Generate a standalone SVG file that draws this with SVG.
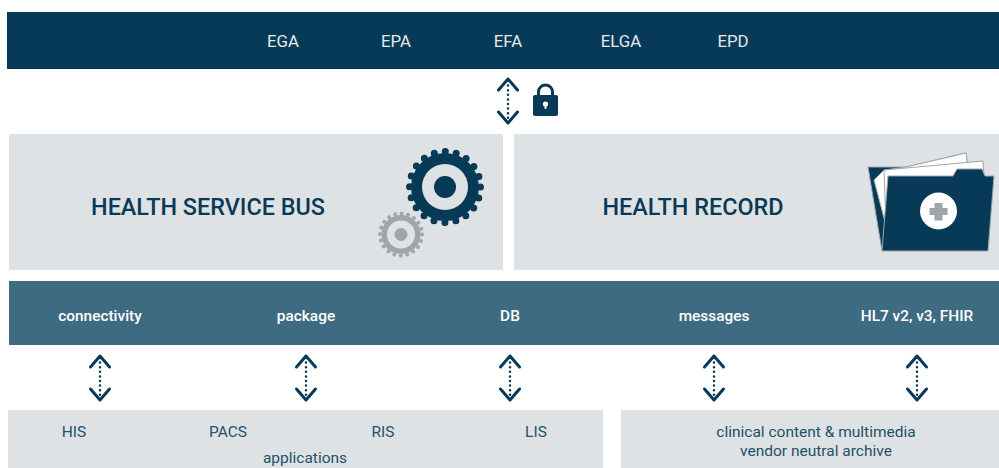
<svg xmlns="http://www.w3.org/2000/svg" width="999" height="468" viewBox="0 0 999 468">
<style>
text{font-family:Roboto,"Liberation Sans",sans-serif;text-anchor:middle}
.top{fill:#e4e9ec;font-size:16.8px}
.big{fill:#073a56;font-size:23.400px;font-weight:500}
.mid{fill:#fff;font-size:15.4px;font-weight:500}
.low{fill:#23506a;font-size:15.500px}
.panel{fill:#dfe2e5}
.chev{fill:none;stroke:#073a56;stroke-width:3;stroke-linecap:round;stroke-linejoin:round}
.dots{fill:none;stroke:#073a56;stroke-width:2.5;stroke-linecap:round;stroke-dasharray:0 4.6}
</style>
<defs>
<g id="arrow">
<path class="dots" d="M0 -20V20"/>
<path class="chev" d="M-9.500 -11 L0 -22 L9.500 -11"/>
<path class="chev" d="M-9.500 11 L0 22 L9.500 11"/>
</g>
</defs>
<rect width="999" height="468" fill="#fff"/>
<g id="top-bar">
<rect x="7" y="12" width="992" height="57" fill="#073a56"/>
<text class="top" x="283" y="46.500">EGA</text>
<text class="top" x="396" y="46.500">EPA</text>
<text class="top" x="508" y="46.500">EFA</text>
<text class="top" x="621" y="46.500">ELGA</text>
<text class="top" x="733" y="46.500">EPD</text>
</g>
<g id="lock">
<path d="M538.500 96V92a7 7 0 0 1 14 0V96" fill="none" stroke="#073a56" stroke-width="3"/>
<rect x="533" y="95" width="25" height="21" rx="2" fill="#073a56"/>
<circle cx="545.500" cy="104" r="2.600" fill="#fff"/>
<rect x="544.600" y="104" width="1.800" height="5" fill="#fff"/>
</g>
<g id="health-service-bus">
<rect class="panel" x="9" y="134" width="494" height="136"/>
<text class="big" x="208" y="214.500">HEALTH SERVICE BUS</text>
<g id="gear-small">
<circle cx="401" cy="234.500" r="21" fill="none" stroke="#a0a5aa" stroke-width="4" stroke-dasharray="0 6.597" stroke-linecap="round"/>
<circle cx="401" cy="234.500" r="19.500" fill="#a0a5aa"/>
<circle cx="401" cy="234.500" r="14" fill="#dfe2e5"/>
<circle cx="401" cy="234.500" r="6.500" fill="#a0a5aa"/>
</g>
<g id="gear-big">
<circle cx="445" cy="187" r="35.500" fill="none" stroke="#073a56" stroke-width="7" stroke-dasharray="0 11.152" stroke-linecap="round"/>
<circle cx="445" cy="187" r="34" fill="#073a56"/>
<circle cx="445" cy="187" r="23" fill="#dfe2e5"/>
<circle cx="445" cy="187" r="11" fill="#073a56"/>
</g>
</g>
<g id="health-record">
<rect class="panel" x="514" y="134" width="485" height="136"/>
<text class="big" x="693" y="214.500">HEALTH RECORD</text>
<g id="folder">
<path d="M868 167L906 167L966 153L968 170L965 176L882 251Z" fill="#073a56" stroke="#a0a5aa"/>
<path d="M874 180L884 170L906 167L966 153L968 170L885 222Z" fill="#fff" stroke="#a0a5aa"/>
<path d="M884 170L983 161L984 176L886 225Z" fill="#fff" stroke="#a0a5aa"/>
<path d="M888 176L953 176L957 169L982 169L985 176L994 176L988 251L882 251Z" fill="#073a56" stroke="#a0a5aa"/>
<circle cx="938.500" cy="211" r="18.500" fill="#fff"/>
<path d="M934.500 203H942.500V208H947.500V215H942.500V220.500H934.500V215H929.500V208H934.500Z" fill="#a0a5aa"/>
</g>
</g>
<g id="interfaces">
<rect x="9" y="281" width="990" height="64" fill="#3f6b82"/>
<text class="mid" x="100" y="321">connectivity</text>
<text class="mid" x="306" y="321">package</text>
<text class="mid" x="510" y="321">DB</text>
<text class="mid" x="714" y="321">messages</text>
<text class="mid" x="917" y="321">HL7 v2, v3, FHIR</text>
</g>
<g id="applications">
<rect class="panel" x="8" y="410" width="595" height="58"/>
<text class="low" x="74" y="437">HIS</text>
<text class="low" x="228" y="437">PACS</text>
<text class="low" x="383" y="437">RIS</text>
<text class="low" x="536" y="437">LIS</text>
<text class="low" x="305" y="463">applications</text>
</g>
<g id="archive">
<rect class="panel" x="621" y="410" width="378" height="58"/>
<text class="low" x="816" y="437">clinical content &amp; multimedia</text>
<text class="low" x="816" y="456">vendor neutral archive</text>
</g>
<g id="connectors">
<use href="#arrow" x="508" y="101"/>
<use href="#arrow" x="100" y="378"/>
<use href="#arrow" x="306" y="378"/>
<use href="#arrow" x="510" y="378"/>
<use href="#arrow" x="714" y="378"/>
<use href="#arrow" x="917" y="378"/>
</g>
</svg>
